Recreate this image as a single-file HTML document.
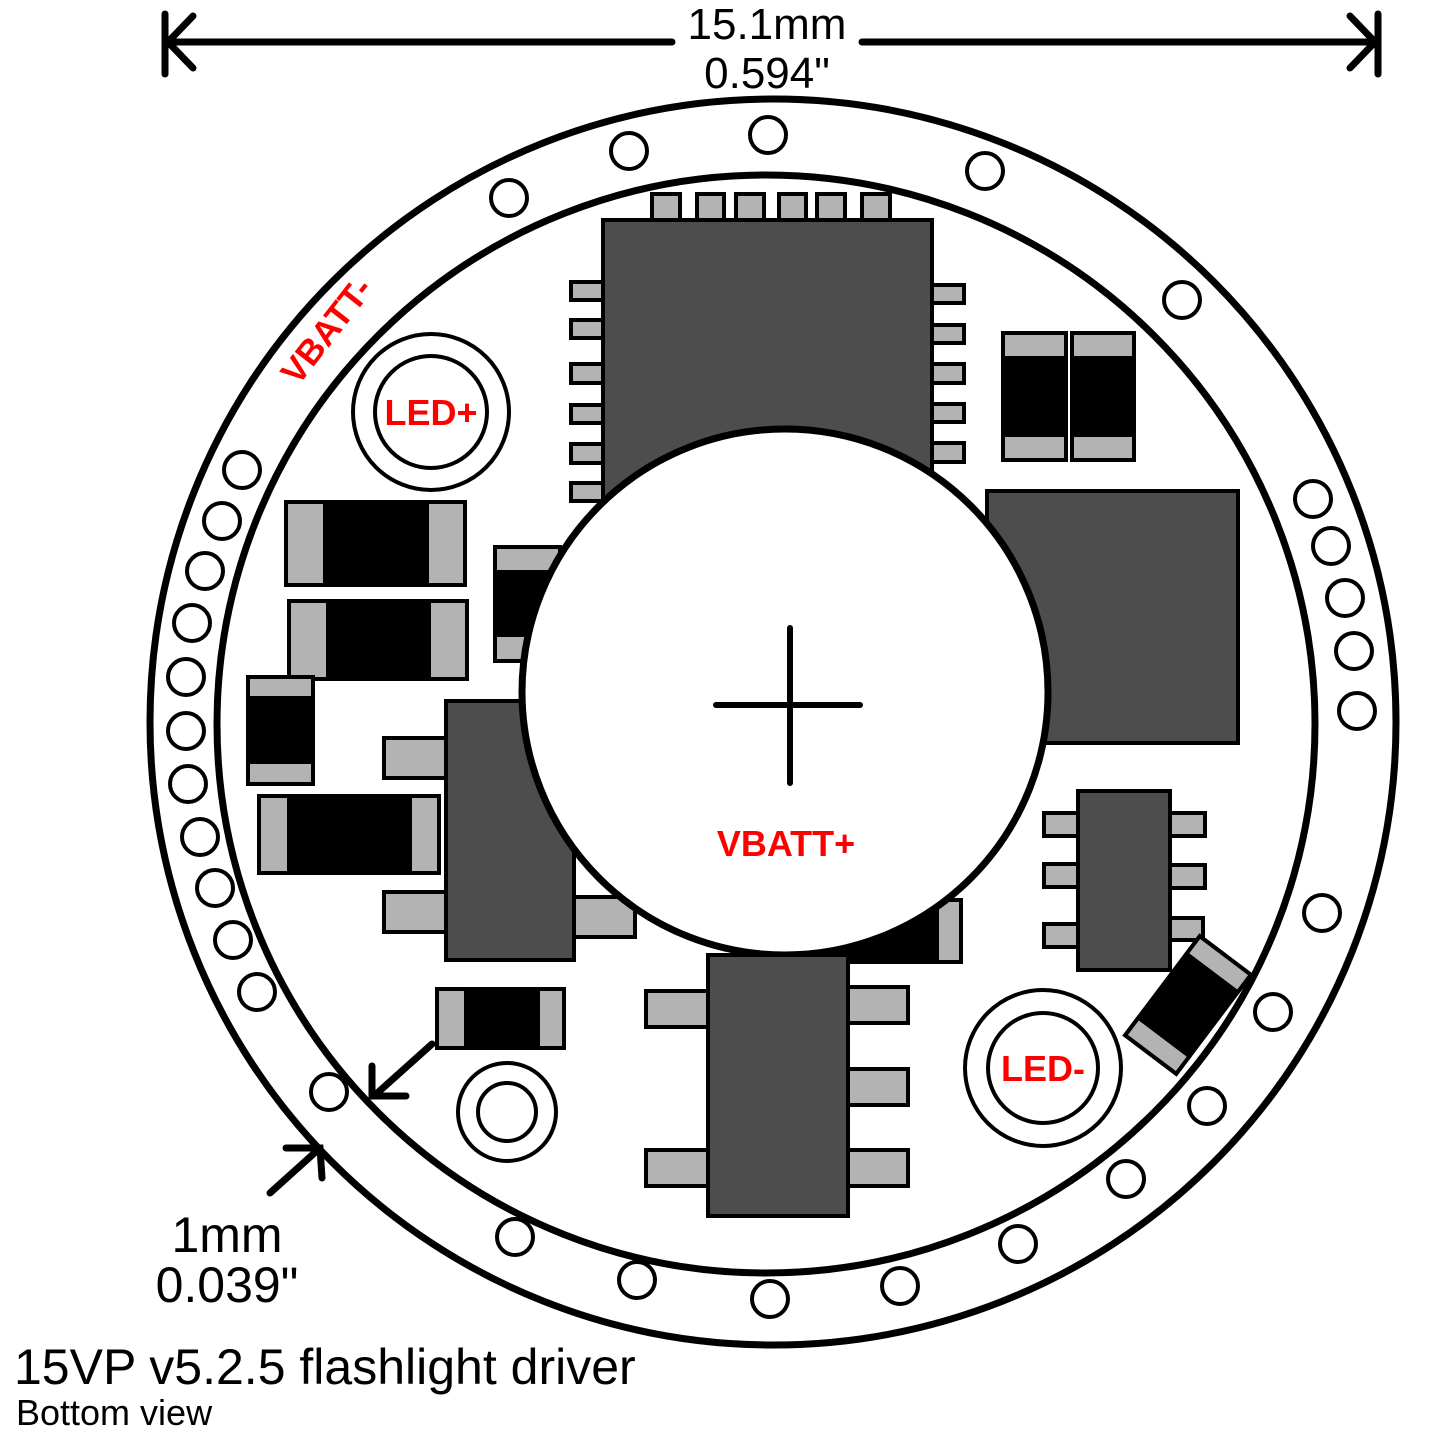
<!DOCTYPE html>
<html><head><style>html,body{margin:0;padding:0;background:#fff}svg{display:block}</style></head><body>
<svg width="1450" height="1450" viewBox="0 0 1450 1450" xmlns="http://www.w3.org/2000/svg" font-family="Liberation Sans, sans-serif">
<g fill="none" stroke="#000">
<circle cx="773" cy="722" r="623" stroke-width="7"/>
<circle cx="766" cy="724" r="549" stroke-width="7"/>
<g stroke-width="4" fill="#fff">
<circle cx="629" cy="151" r="18"/><circle cx="768" cy="135" r="18"/><circle cx="985" cy="171" r="18"/><circle cx="509" cy="198" r="18"/><circle cx="1182" cy="300" r="18"/>
<circle cx="242" cy="470" r="18"/><circle cx="222" cy="521" r="18"/><circle cx="205" cy="571" r="18"/><circle cx="192" cy="623" r="18"/><circle cx="186" cy="677" r="18"/><circle cx="186" cy="731" r="18"/><circle cx="188" cy="784" r="18"/><circle cx="200" cy="837" r="18"/><circle cx="215" cy="888" r="18"/><circle cx="233" cy="940" r="18"/><circle cx="257" cy="992" r="18"/><circle cx="329" cy="1092" r="18"/>
<circle cx="515" cy="1237" r="18"/><circle cx="637" cy="1280" r="18"/><circle cx="770" cy="1299" r="18"/><circle cx="900" cy="1286" r="18"/><circle cx="1018" cy="1244" r="18"/><circle cx="1126" cy="1179" r="18"/><circle cx="1207" cy="1106" r="18"/><circle cx="1273" cy="1012" r="18"/><circle cx="1322" cy="913" r="18"/>
<circle cx="1313" cy="499" r="18"/><circle cx="1331" cy="546" r="18"/><circle cx="1345" cy="598" r="18"/><circle cx="1354" cy="651" r="18"/><circle cx="1357" cy="711" r="18"/>
</g>
</g>
<g stroke="#000" stroke-width="4">
<g fill="#b3b3b3">
<rect x="652" y="194" width="28" height="28"/><rect x="697" y="194" width="27" height="28"/><rect x="736" y="194" width="28" height="28"/><rect x="779" y="194" width="27" height="28"/><rect x="817" y="194" width="28" height="28"/><rect x="862" y="194" width="28" height="28"/>
<rect x="571" y="282" width="34" height="18"/><rect x="571" y="320" width="34" height="18"/><rect x="571" y="364" width="34" height="19"/><rect x="571" y="405" width="34" height="18"/><rect x="571" y="444" width="34" height="19"/><rect x="571" y="483" width="34" height="18"/>
<rect x="930" y="285" width="34" height="18"/><rect x="930" y="325" width="34" height="18"/><rect x="930" y="364" width="34" height="19"/><rect x="930" y="404" width="34" height="18"/><rect x="930" y="443" width="34" height="19"/>
</g>
<rect x="603" y="220" width="329" height="290" fill="#4d4d4d"/>
<rect x="1003" y="333" width="63" height="127" fill="#000"/><rect x="1003" y="333" width="63" height="25" fill="#b3b3b3"/><rect x="1003" y="435" width="63" height="25" fill="#b3b3b3"/>
<rect x="1072" y="333" width="62" height="127" fill="#000"/><rect x="1072" y="333" width="62" height="25" fill="#b3b3b3"/><rect x="1072" y="435" width="62" height="25" fill="#b3b3b3"/>
<rect x="987" y="491" width="251" height="252" fill="#4d4d4d"/>
<rect x="286" y="502" width="179" height="83" fill="#000"/><rect x="286" y="502" width="39" height="83" fill="#b3b3b3"/><rect x="427" y="502" width="38" height="83" fill="#b3b3b3"/>
<rect x="289" y="601" width="178" height="78" fill="#000"/><rect x="289" y="601" width="39" height="78" fill="#b3b3b3"/><rect x="429" y="601" width="38" height="78" fill="#b3b3b3"/>
<rect x="248" y="677" width="65" height="107" fill="#000"/><rect x="248" y="677" width="65" height="21" fill="#b3b3b3"/><rect x="248" y="762" width="65" height="22" fill="#b3b3b3"/>
<rect x="259" y="796" width="180" height="77" fill="#000"/><rect x="259" y="796" width="30" height="77" fill="#b3b3b3"/><rect x="410" y="796" width="29" height="77" fill="#b3b3b3"/>
<rect x="495" y="547" width="65" height="114" fill="#000"/><rect x="495" y="547" width="65" height="25" fill="#b3b3b3"/><rect x="495" y="635" width="65" height="26" fill="#b3b3b3"/>
<rect x="384" y="738" width="62" height="40" fill="#b3b3b3"/><rect x="384" y="892" width="62" height="40" fill="#b3b3b3"/><rect x="572" y="897" width="63" height="40" fill="#b3b3b3"/>
<rect x="446" y="701" width="128" height="259" fill="#4d4d4d"/>
<rect x="823" y="900" width="138" height="62" fill="#000"/><rect x="823" y="900" width="17" height="62" fill="#b3b3b3"/><rect x="937" y="900" width="24" height="62" fill="#b3b3b3"/>
</g>
<circle cx="785" cy="692" r="263" fill="#fff" stroke="#000" stroke-width="7"/>
<g stroke="#000" stroke-width="6" stroke-linecap="round"><line x1="716" y1="705" x2="860" y2="705"/><line x1="790" y1="628" x2="790" y2="783"/></g>
<text x="786" y="856" font-size="36" font-weight="bold" fill="#f00" text-anchor="middle">VBATT+</text>
<g stroke="#000" stroke-width="4">
<g fill="#b3b3b3">
<rect x="646" y="991" width="62" height="36"/><rect x="646" y="1150" width="62" height="36"/>
<rect x="846" y="987" width="62" height="36"/><rect x="846" y="1069" width="62" height="36"/><rect x="846" y="1150" width="62" height="36"/>
</g>
<rect x="708" y="955" width="140" height="261" fill="#4d4d4d"/>
<g fill="#b3b3b3">
<rect x="1044" y="813" width="36" height="23"/><rect x="1044" y="864" width="36" height="23"/><rect x="1044" y="924" width="36" height="23"/>
<rect x="1168" y="813" width="37" height="23"/><rect x="1168" y="865" width="37" height="23"/><rect x="1168" y="918" width="35" height="22"/>
</g>
<rect x="1078" y="791" width="92" height="179" fill="#4d4d4d"/>
<g transform="translate(1188,1005) rotate(37)">
<rect x="-32" y="-62" width="64" height="124" fill="#000"/><rect x="-32" y="-62" width="64" height="22" fill="#b3b3b3"/><rect x="-32" y="40" width="64" height="22" fill="#b3b3b3"/>
</g>
<rect x="437" y="989" width="127" height="59" fill="#000"/><rect x="437" y="989" width="29" height="59" fill="#b3b3b3"/><rect x="538" y="989" width="26" height="59" fill="#b3b3b3"/>
</g>
<g fill="#fff" stroke="#000" stroke-width="4">
<circle cx="431" cy="412" r="78"/><circle cx="431" cy="412" r="56"/>
<circle cx="1043" cy="1068" r="78"/><circle cx="1043" cy="1068" r="55"/>
<circle cx="507" cy="1112" r="49"/><circle cx="507" cy="1112" r="29"/>
</g>
<text x="431" y="425" font-size="36" font-weight="bold" fill="#f00" text-anchor="middle">LED+</text>
<text x="1043" y="1081" font-size="36" font-weight="bold" fill="#f00" text-anchor="middle">LED-</text>
<text transform="translate(336,338) rotate(-52)" font-size="35" font-weight="bold" fill="#f00" text-anchor="middle">VBATT-</text>
<g stroke="#000" stroke-width="7" stroke-linecap="round" fill="none">
<line x1="165" y1="14" x2="165" y2="74"/><line x1="1378" y1="14" x2="1378" y2="74"/>
<line x1="168" y1="42" x2="672" y2="42"/><line x1="862" y1="42" x2="1375" y2="42"/>
<polyline points="193,16 168,42 193,68"/><polyline points="1350,16 1375,42 1350,68"/>
<line x1="432" y1="1044" x2="374" y2="1096"/><polyline points="372,1066 372,1096 406,1096"/>
<line x1="270" y1="1193" x2="320" y2="1148"/><polyline points="286,1148 320,1148 322,1178"/>
</g>
<text x="767" y="39" font-size="44" text-anchor="middle">15.1mm</text>
<text x="767" y="88" font-size="44" text-anchor="middle">0.594"</text>
<text x="227" y="1252" font-size="50" text-anchor="middle">1mm</text>
<text x="227" y="1302" font-size="50" text-anchor="middle">0.039"</text>
<text x="14" y="1384" font-size="50">15VP v5.2.5 flashlight driver</text>
<text x="16" y="1425" font-size="36">Bottom view</text>
</svg>
</body></html>
